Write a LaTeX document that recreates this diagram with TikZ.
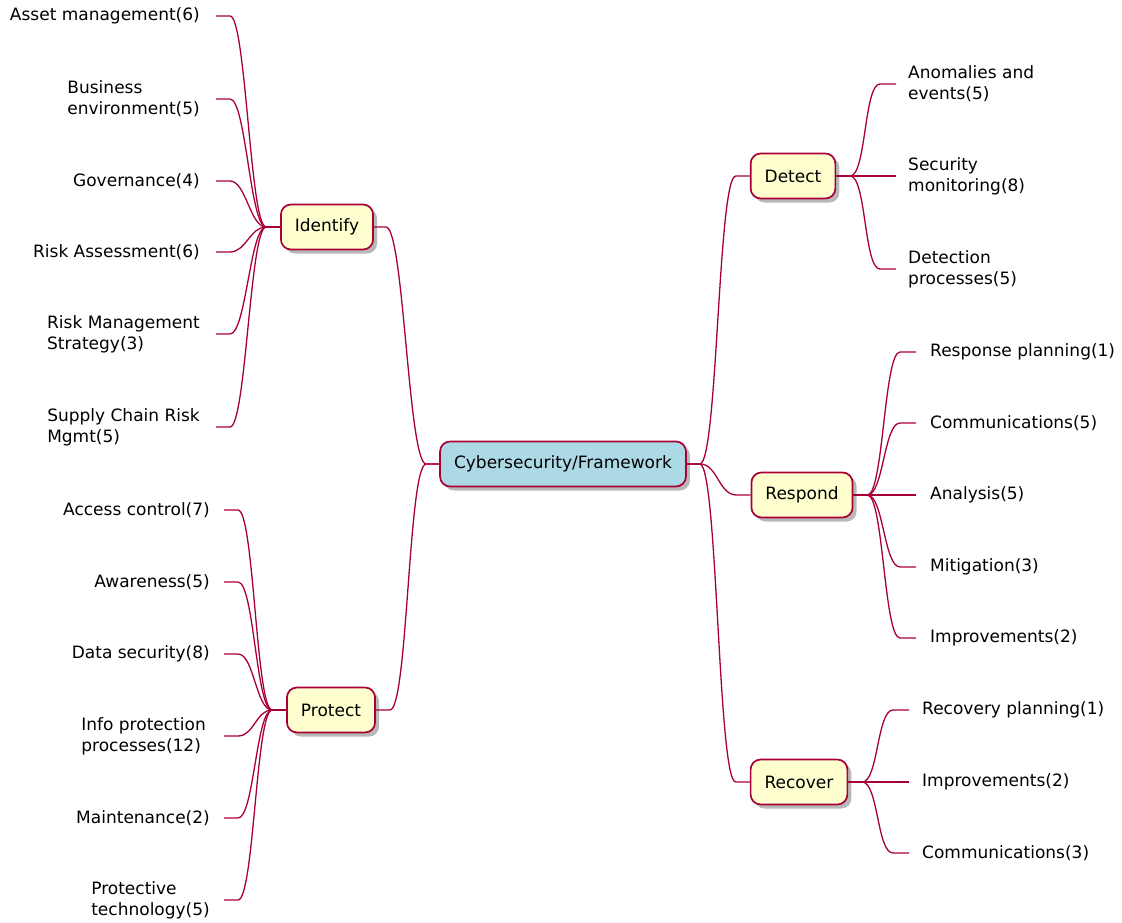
\documentclass[tikz,border=0pt]{standalone}
\usepackage{fontspec}
\setmainfont{DejaVu Sans}
\usetikzlibrary{shadows,calc}
\definecolor{pumlred}{HTML}{A80036}
\definecolor{pumlyellow}{HTML}{FEFECE}
\definecolor{pumlblue}{HTML}{ADD8E6}
\newcommand{\leftlink}[3]{\draw[conn] (#1.west) -- ++(-14,0) .. controls +(-16,0) and +(16,0) .. ($(#2.east)+(#3,0)$) -- ($(#2.east)+(#3,0)+(-14,0)$);}
\newcommand{\rightlink}[3]{\draw[conn] (#1.east) -- ++(14,0) .. controls +(16,0) and +(-16,0) .. ($(#2.west)+(-#3,0)$) -- ($(#2.west)+(-#3,0)+(16,0)$);}
\begin{document}
\begin{tikzpicture}[x=1pt,y=-1pt,
  every node/.style={font=\fontsize{17}{21}\selectfont},
  box/.style={draw=pumlred, line width=1.7pt, rounded corners=10pt, fill=pumlyellow,
    minimum height=45pt, inner xsep=14pt,
    drop shadow={shadow xshift=4pt, shadow yshift=-4pt, fill=black, opacity=0.28}},
  rootbox/.style={box, fill=pumlblue},
  leaf/.style={inner sep=0pt, align=left},
  conn/.style={draw=pumlred, line width=1.3pt}]
\useasboundingbox (0,0) rectangle (1122,923);

% main boxes
\node[rootbox] (root) at (563,464) {Cybersecurity/Framework};
\node[box] (identify) at (327,227) {Identify};
\node[box] (protect) at (331,710) {Protect};
\node[box] (detect) at (793,176) {Detect};
\node[box] (respond) at (802,495) {Respond};
\node[box] (recover) at (799,782) {Recover};

% Identify leaves
\node[leaf, anchor=east] (i1) at (200,16) {Asset management(6)};
\node[leaf, anchor=east] (i2) at (200,99) {Business\\environment(5)};
\node[leaf, anchor=east] (i3) at (200,181) {Governance(4)};
\node[leaf, anchor=east] (i4) at (200,252) {Risk Assessment(6)};
\node[leaf, anchor=east] (i5) at (200,334) {Risk Management\\Strategy(3)};
\node[leaf, anchor=east] (i6) at (200,427) {Supply Chain Risk\\Mgmt(5)};

% Protect leaves
\node[leaf, anchor=east] (p1) at (210,510) {Access control(7)};
\node[leaf, anchor=east] (p2) at (210,582) {Awareness(5)};
\node[leaf, anchor=east] (p3) at (210,654) {Data security(8)};
\node[leaf, anchor=east] (p4) at (206,736) {Info protection\\processes(12)};
\node[leaf, anchor=east] (p5) at (210,818) {Maintenance(2)};
\node[leaf, anchor=east] (p6) at (210,900) {Protective\\technology(5)};

% Detect leaves
\node[leaf, anchor=west] (d1) at (908,84) {Anomalies and\\events(5)};
\node[leaf, anchor=west] (d2) at (908,176) {Security\\monitoring(8)};
\node[leaf, anchor=west] (d3) at (908,269) {Detection\\processes(5)};

% Respond leaves
\node[leaf, anchor=west] (r1) at (930,352) {Response planning(1)};
\node[leaf, anchor=west] (r2) at (930,423) {Communications(5)};
\node[leaf, anchor=west] (r3) at (930,495) {Analysis(5)};
\node[leaf, anchor=west] (r4) at (930,567) {Mitigation(3)};
\node[leaf, anchor=west] (r5) at (930,638) {Improvements(2)};

% Recover leaves
\node[leaf, anchor=west] (c1) at (922,710) {Recovery planning(1)};
\node[leaf, anchor=west] (c2) at (922,782) {Improvements(2)};
\node[leaf, anchor=west] (c3) at (922,853) {Communications(3)};

% root links
\draw[conn] (root.west) -- ++(-13,0) .. controls +(-18,0) and +(18,0) .. ($(identify.east)+(12,0)$) -- (identify.east);
\draw[conn] (root.west) -- ++(-13,0) .. controls +(-18,0) and +(18,0) .. ($(protect.east)+(14,0)$) -- (protect.east);
\draw[conn] (root.east) -- ++(13,0) .. controls +(18,0) and +(-18,0) .. ($(detect.west)+(-14,0)$) -- (detect.west);
\draw[conn] (root.east) -- ++(13,0) .. controls +(18,0) and +(-18,0) .. ($(respond.west)+(-14,0)$) -- (respond.west);
\draw[conn] (root.east) -- ++(13,0) .. controls +(18,0) and +(-18,0) .. ($(recover.west)+(-14,0)$) -- (recover.west);

% leaf links
\foreach \n in {i1,i2,i3,i4,i5,i6}{\leftlink{identify}{\n}{30}}
\leftlink{protect}{p1}{28}
\leftlink{protect}{p2}{28}
\leftlink{protect}{p3}{28}
\leftlink{protect}{p4}{32}
\leftlink{protect}{p5}{28}
\leftlink{protect}{p6}{28}
\foreach \n in {d1,d2,d3}{\rightlink{detect}{\n}{28}}
\foreach \n in {r1,r2,r3,r4,r5}{\rightlink{respond}{\n}{30}}
\foreach \n in {c1,c2,c3}{\rightlink{recover}{\n}{29}}
\end{tikzpicture}
\end{document}
